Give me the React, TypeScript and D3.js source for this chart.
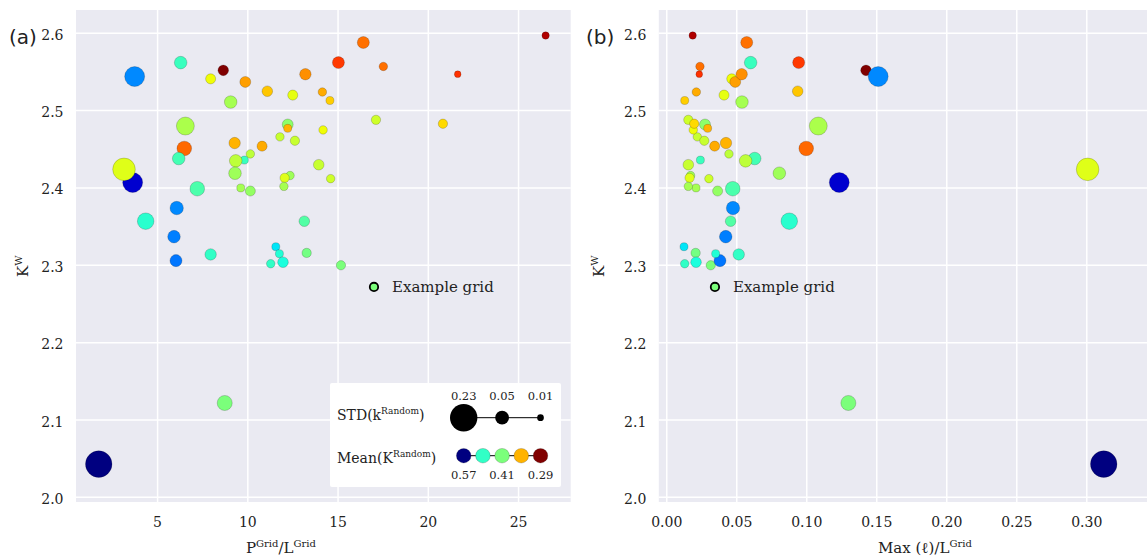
import React from "react";
import * as d3 from "d3";

const WIDTH = 1147;
const HEIGHT = 559;

// One entry per grid, listed in drawing order
const perimeterRatio = [8.64, 3.73, 6.28, 7.94, 9.86, 11.08, 12.49, 9.05, 6.54, 6.48, 6.17, 3.62, 3.14, 7.2, 4.34, 6.06, 5.91, 7.94, 9.27, 9.81, 9.33, 9.29, 9.61, 10.14, 10.14, 10.79, 15.02, 13.19, 14.13, 14.55, 12.21, 12.21, 11.78, 12.61, 14.17, 13.93, 12.34, 12.04, 12.0, 14.59, 16.4, 17.51, 21.63, 26.5, 17.1, 20.81, 13.13, 13.26, 15.16, 6.02, 11.55, 11.75, 11.27, 11.95, 8.72, 1.74];
const maxLengthRatio = [0.1423, 0.151, 0.0599, 0.0464, 0.0489, 0.0935, 0.0409, 0.0537, 0.1082, 0.0996, 0.0628, 0.1232, 0.3006, 0.0471, 0.0875, 0.0473, 0.0421, 0.0514, 0.0423, 0.024, 0.0563, 0.0804, 0.0209, 0.0363, 0.0444, 0.0342, 0.0942, 0.0535, 0.0211, 0.0128, 0.0273, 0.0292, 0.0218, 0.0268, 0.0189, 0.0154, 0.017, 0.0163, 0.0154, 0.0301, 0.0571, 0.0237, 0.0232, 0.0185, 0.0154, 0.0196, 0.0456, 0.0206, 0.0314, 0.038, 0.0123, 0.0349, 0.0128, 0.0209, 0.1297, 0.3121];
const kW = [2.552, 2.544, 2.562, 2.541, 2.537, 2.525, 2.52, 2.511, 2.48, 2.451, 2.438, 2.407, 2.424, 2.399, 2.357, 2.374, 2.337, 2.314, 2.458, 2.436, 2.435, 2.419, 2.4, 2.396, 2.444, 2.454, 2.562, 2.547, 2.524, 2.513, 2.482, 2.477, 2.466, 2.461, 2.475, 2.43, 2.416, 2.413, 2.402, 2.412, 2.588, 2.557, 2.547, 2.597, 2.488, 2.483, 2.357, 2.316, 2.3, 2.306, 2.324, 2.315, 2.302, 2.304, 2.122, 2.043];
const stdKRandom = [0.028, 0.114, 0.041, 0.025, 0.03, 0.028, 0.025, 0.041, 0.09, 0.057, 0.041, 0.114, 0.15, 0.057, 0.075, 0.047, 0.041, 0.033, 0.033, 0.015, 0.041, 0.041, 0.015, 0.025, 0.017, 0.025, 0.037, 0.033, 0.017, 0.015, 0.03, 0.015, 0.017, 0.021, 0.017, 0.028, 0.017, 0.021, 0.017, 0.017, 0.037, 0.017, 0.01, 0.0125, 0.021, 0.021, 0.028, 0.021, 0.021, 0.037, 0.015, 0.015, 0.017, 0.028, 0.061, 0.215];
const meanKRandom = [0.29, 0.487, 0.436, 0.376, 0.352, 0.362, 0.379, 0.398, 0.396, 0.338, 0.432, 0.548, 0.381, 0.429, 0.442, 0.487, 0.49, 0.439, 0.357, 0.436, 0.391, 0.4, 0.398, 0.403, 0.391, 0.355, 0.326, 0.348, 0.355, 0.364, 0.405, 0.357, 0.388, 0.388, 0.376, 0.388, 0.4, 0.381, 0.398, 0.386, 0.34, 0.34, 0.324, 0.3, 0.386, 0.367, 0.426, 0.413, 0.41, 0.493, 0.458, 0.445, 0.439, 0.448, 0.41, 0.57];

// Highlighted example grid
const examplePerimeterRatio = 16.99;
const exampleMaxLengthRatio = 0.0344;
const exampleKW = 2.272;
const exampleMean = 0.41;

// Axis ticks
const yTicks = [2.0, 2.1, 2.2, 2.3, 2.4, 2.5, 2.6];
const xTicksLeft = [5, 10, 15, 20, 25];
const xTicksRight = [0.0, 0.05, 0.1, 0.15, 0.2, 0.25, 0.3];

// Legend entries
const legendStd = [0.23, 0.05, 0.01];
const legendMean = [0.57, 0.439, 0.41, 0.357, 0.29];
const legendMeanLabels = [0.57, 0.41, 0.29];

// matplotlib "jet" colormap segments
const jetR: [number, number][] = [[0, 0], [0.35, 0], [0.66, 1], [0.89, 1], [1, 0.5]];
const jetG: [number, number][] = [[0, 0], [0.125, 0], [0.375, 1], [0.64, 1], [0.91, 0], [1, 0]];
const jetB: [number, number][] = [[0, 0.5], [0.11, 1], [0.34, 1], [0.65, 0], [1, 0]];
const channel = (seg: [number, number][]) =>
  d3.scaleLinear().domain(seg.map((s) => s[0])).range(seg.map((s) => s[1])).clamp(true);
const rC = channel(jetR), gC = channel(jetG), bC = channel(jetB);
const jet = (t: number) => d3.rgb(255 * rC(t), 255 * gC(t), 255 * bC(t)).formatHex();

const meanNorm = d3.scaleLinear().domain([0.57, 0.41, 0.29]).range([0, 0.5, 1]).clamp(true);
const colorOf = (m: number) => jet(meanNorm(m));
const radius = d3.scalePow().exponent(0.45).domain([0, 0.23]).range([0, 13.7]);

const PLOT_TOP = 10;
const PLOT_BOTTOM = 502;
const yScale = d3.scaleLinear().domain([1.994, 2.63]).range([PLOT_BOTTOM, PLOT_TOP]);
const xLeft = d3.scaleLinear().domain([0.48, 27.89]).range([76, 570.7]);
const xRight = d3.scaleLinear().domain([-0.0057, 0.343]).range([658.8, 1147]);

const SERIF = "'DejaVu Serif', serif";
const BG = "#eaeaf2";

type PanelProps = {
  x: d3.ScaleLinear<number, number>;
  xs: number[];
  xTicks: number[];
  fmt: (v: number) => string;
  exampleX: number;
};

function Panel({ x, xs, xTicks, fmt, exampleX }: PanelProps) {
  const [x0, x1] = x.range();
  const yTickX = x0 - 12.5;
  return (
    <g>
      <rect x={x0} y={PLOT_TOP} width={x1 - x0} height={PLOT_BOTTOM - PLOT_TOP} fill={BG} />
      {xTicks.map((t) => (
        <line key={"vx" + t} x1={x(t)} x2={x(t)} y1={PLOT_TOP} y2={PLOT_BOTTOM} stroke="#fff" strokeWidth={1.5} />
      ))}
      {yTicks.map((t) => (
        <line key={"hy" + t} x1={x0} x2={x1} y1={yScale(t)} y2={yScale(t)} stroke="#fff" strokeWidth={1.5} />
      ))}
      {xTicks.map((t) => (
        <text key={"tx" + t} x={x(t)} y={527} textAnchor="middle" fontFamily={SERIF} fontSize={14} fill="#222">
          {fmt(t)}
        </text>
      ))}
      {yTicks.map((t) => (
        <text key={"ty" + t} x={yTickX} y={yScale(t) + 6.5} textAnchor="end" fontFamily={SERIF} fontSize={14} fill="#222">
          {t.toFixed(1)}
        </text>
      ))}
      {xs.map((xv, i) => (
        <circle
          key={"p" + i}
          cx={x(xv)}
          cy={yScale(kW[i])}
          r={radius(stdKRandom[i])}
          fill={colorOf(meanKRandom[i])}
          stroke="rgba(0,0,0,0.3)"
          strokeWidth={0.6}
        />
      ))}
      <circle cx={x(exampleX)} cy={yScale(exampleKW)} r={4.2} fill={colorOf(exampleMean)} stroke="#000" strokeWidth={1.8} />
      <text x={x(exampleX) + 18} y={yScale(exampleKW) + 5.5} fontFamily={SERIF} fontSize={15} fill="#222">
        Example grid
      </text>
    </g>
  );
}

function Legend() {
  const sx = d3.scaleLinear().domain([0, legendStd.length - 1]).range([463.7, 540.5]);
  const mx = d3.scaleLinear().domain([0, legendMean.length - 1]).range([463.7, 540.5]);
  const sizeY = 417.7;
  const meanY = 455.7;
  return (
    <g>
      <rect x={330} y={383} width={231} height={104} fill="#fff" rx={2} />
      <text x={337} y={420} fontFamily={SERIF} fontSize={14} fill="#222">
        STD(k<tspan fontSize={9} dy={-6}>Random</tspan><tspan dy={6}>)</tspan>
      </text>
      <text x={337} y={463} fontFamily={SERIF} fontSize={14} fill="#222">
        Mean(K<tspan fontSize={9} dy={-6}>Random</tspan><tspan dy={6}>)</tspan>
      </text>
      <line x1={sx(0)} x2={sx(legendStd.length - 1)} y1={sizeY} y2={sizeY} stroke="#000" strokeWidth={1} />
      {legendStd.map((s, i) => (
        <g key={"ls" + i}>
          <circle cx={sx(i)} cy={sizeY} r={radius(s)} fill="#000" />
          <text x={sx(i)} y={400} textAnchor="middle" fontFamily={SERIF} fontSize={11.5} fill="#222">
            {s.toFixed(2)}
          </text>
        </g>
      ))}
      <line x1={mx(0)} x2={mx(legendMean.length - 1)} y1={meanY} y2={meanY} stroke="#000" strokeWidth={1} />
      {legendMean.map((m, i) => (
        <circle key={"lm" + i} cx={mx(i)} cy={meanY} r={7.3} fill={colorOf(m)} stroke="rgba(0,0,0,0.3)" strokeWidth={0.6} />
      ))}
      {legendMeanLabels.map((m, i) => (
        <text key={"lml" + i} x={sx(i)} y={478.5} textAnchor="middle" fontFamily={SERIF} fontSize={11.5} fill="#222">
          {m.toFixed(2)}
        </text>
      ))}
    </g>
  );
}

export default function App() {
  return (
    <svg
      width={WIDTH}
      height={HEIGHT}
      style={{ position: "fixed", left: 0, top: 0, background: "#fff" }}
    >
      <Panel x={xLeft} xs={perimeterRatio} xTicks={xTicksLeft} fmt={(v) => String(v)} exampleX={examplePerimeterRatio} />
      <Panel x={xRight} xs={maxLengthRatio} xTicks={xTicksRight} fmt={(v) => v.toFixed(2)} exampleX={exampleMaxLengthRatio} />
      <Legend />

      {/* panel tags */}
      <text x={9} y={44} fontFamily="'DejaVu Sans', sans-serif" fontSize={20} fill="#222">(a)</text>
      <text x={586} y={44} fontFamily="'DejaVu Sans', sans-serif" fontSize={20} fill="#222">(b)</text>

      {/* y-axis titles */}
      <text transform="translate(28,277) rotate(-90)" fontFamily={SERIF} fontSize={15} fill="#222">
        K<tspan fontSize={10} dy={-6}>W</tspan>
      </text>
      <text transform="translate(604,277) rotate(-90)" fontFamily={SERIF} fontSize={15} fill="#222">
        K<tspan fontSize={10} dy={-6}>W</tspan>
      </text>

      {/* x-axis titles */}
      <text x={246} y={553} fontFamily={SERIF} fontSize={15} fill="#222">
        P<tspan fontSize={10} dy={-6}>Grid</tspan><tspan dy={6}>/L</tspan><tspan fontSize={10} dy={-6}>Grid</tspan>
      </text>
      <text x={878} y={553} fontFamily={SERIF} fontSize={15} fill="#222">
        Max (ℓ)/L<tspan fontSize={10} dy={-6}>Grid</tspan>
      </text>
    </svg>
  );
}
